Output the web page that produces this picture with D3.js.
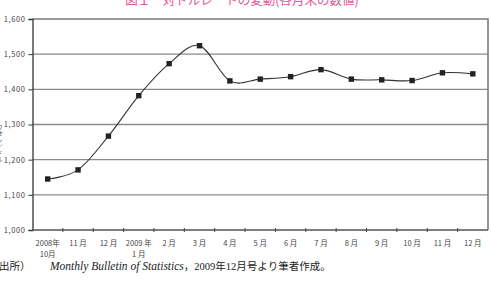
<!DOCTYPE html>
<html>
<head>
<meta charset="utf-8">
<script src="https://cdn.jsdelivr.net/npm/d3@7"></script>
<style>
  html, body { margin: 0; padding: 0; background: #fff; overflow: hidden; }
  svg { display: block; }
</style>
</head>
<body>
<div id="chart"></div>
<script>
// ----- Data -----
const months = ["2008-10", "2008-11", "2008-12", "2009-01", "2009-02", "2009-03", "2009-04",
                "2009-05", "2009-06", "2009-07", "2009-08", "2009-09", "2009-10", "2009-11", "2009-12"];
const monthLabels = [["2008年", "10月"], ["11 月"], ["12 月"], ["2009 年", "1 月"], ["2 月"], ["3 月"], ["4 月"],
                     ["5 月"], ["6 月"], ["7 月"], ["8 月"], ["9 月"], ["10 月"], ["11 月"], ["12 月"]];
const rates = [1145, 1171, 1267, 1382, 1473, 1524, 1424, 1429, 1436, 1456, 1429, 1427, 1425, 1447, 1444];
const yTicks = [1000, 1100, 1200, 1300, 1400, 1500, 1600];

const titleText  = "図１　対ドルレートの変動(各月末の数値)";
const yTitleText = "ウォン／ドル";

// ----- Layout -----
const width  = 491;
const height = 283;
const margin = { top: 19, right: 3, bottom: 53, left: 32.5 };
const innerWidth  = width  - margin.left - margin.right;
const innerHeight = height - margin.top  - margin.bottom;

const svg = d3.select("#chart")
  .append("svg")
  .attr("width", width)
  .attr("height", height);

const g = svg.append("g")
  .attr("transform", `translate(${margin.left},${margin.top})`);

const x = d3.scaleBand()
  .domain(months)
  .range([0, innerWidth]);

const y = d3.scaleLinear()
  .domain([1000, 1600])
  .range([innerHeight, 0]);

const sansJP = "'Noto Sans CJK JP', 'DejaVu Sans', sans-serif";

// title (cut at top, as in the source scan)
svg.append("text")
  .attr("x", 242)
  .attr("y", 5)
  .attr("text-anchor", "middle")
  .attr("fill", "#e8559a")
  .attr("font-family", sansJP)
  .attr("font-size", 12.5)
  .text(titleText);

// gridlines
g.selectAll(".grid")
  .data(yTicks.filter(d => d > 1000 && d < 1600))
  .enter()
  .append("line")
  .attr("x1", 0)
  .attr("x2", innerWidth)
  .attr("y1", d => y(d))
  .attr("y2", d => y(d))
  .attr("stroke", "#8a8a8a")
  .attr("stroke-width", 1.4);

// plot frame (top + right)
g.append("path")
  .attr("d", `M0,${y(1600)}H${innerWidth}V${innerHeight}`)
  .attr("fill", "none")
  .attr("stroke", "#7a7a7a")
  .attr("stroke-width", 1.6);

// y axis
const yAxis = g.append("g")
  .call(d3.axisLeft(y).tickValues(yTicks).tickSize(4).tickPadding(3)
    .tickFormat(d3.format(",")));
yAxis.select(".domain").attr("stroke", "#333").attr("stroke-width", 1.3);
yAxis.selectAll(".tick line").attr("stroke", "#333");
yAxis.selectAll(".tick text")
  .attr("fill", "#444")
  .attr("font-family", sansJP)
  .attr("font-size", 7.5)
  .style("letter-spacing", "0.6px");

// x axis line + ticks at band edges
g.append("line")
  .attr("x1", 0).attr("x2", innerWidth)
  .attr("y1", innerHeight).attr("y2", innerHeight)
  .attr("stroke", "#555")
  .attr("stroke-width", 1.3);

g.selectAll(".xtick")
  .data(months.slice(1))
  .enter()
  .append("line")
  .attr("x1", d => x(d))
  .attr("x2", d => x(d))
  .attr("y1", innerHeight - 2)
  .attr("y2", innerHeight + 2)
  .attr("stroke", "#444");

// x labels
const xl = g.selectAll(".xlabel")
  .data(months)
  .enter()
  .append("text")
  .attr("text-anchor", "middle")
  .attr("fill", "#444")
  .attr("font-family", sansJP)
  .attr("font-size", 7.5);

xl.selectAll("tspan")
  .data((d, i) => monthLabels[i].map(t => ({ t, m: d })))
  .enter()
  .append("tspan")
  .attr("x", d => x(d.m) + x.bandwidth() / 2)
  .attr("y", (d, j) => innerHeight + 16 + j * 11)
  .text(d => d.t);

// y title (mostly cut at left edge)
svg.append("text")
  .attr("x", -0.5)
  .attr("y", 124)
  .attr("fill", "#555")
  .attr("font-family", sansJP)
  .attr("font-size", 6.5)
  .style("writing-mode", "vertical-rl")
  .text(yTitleText);

// line
const line = d3.line()
  .x((d, i) => x(months[i]) + x.bandwidth() / 2)
  .y(d => y(d))
  .curve(d3.curveCardinal.tension(0));

g.append("path")
  .datum(rates)
  .attr("d", line)
  .attr("fill", "none")
  .attr("stroke", "#333")
  .attr("stroke-width", 1.1);

// markers
g.selectAll(".marker")
  .data(rates)
  .enter()
  .append("rect")
  .attr("x", (d, i) => x(months[i]) + x.bandwidth() / 2 - 2.7)
  .attr("y", d => y(d) - 2.7)
  .attr("width", 5.4)
  .attr("height", 5.4)
  .attr("fill", "#222");

// source note
const note = svg.append("text")
  .attr("x", -1)
  .attr("y", 270)
  .attr("fill", "#222")
  .attr("font-family", "'Liberation Serif', 'Noto Sans CJK JP', serif")
  .attr("font-size", 10.5);
note.append("tspan").text("出所）");
note.append("tspan").attr("x", 50).attr("font-style", "italic").attr("font-size", 11.5)
  .text("Monthly Bulletin of Statistics");
note.append("tspan").text("，2009年12月号より筆者作成。");
</script>
</body>
</html>
